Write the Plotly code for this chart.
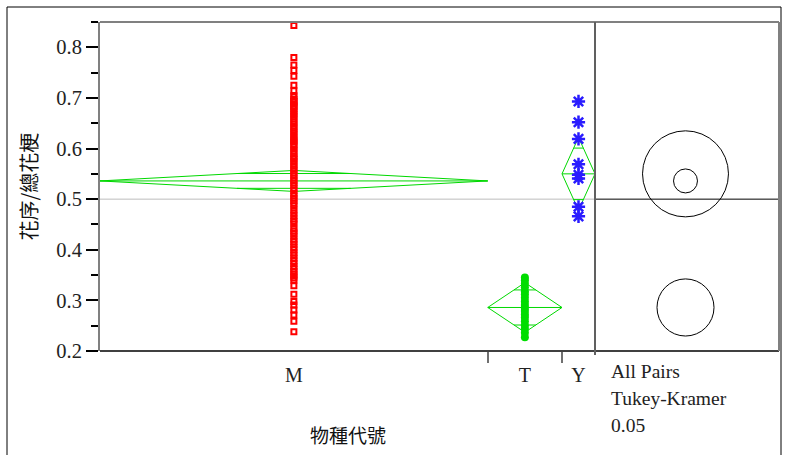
import math
import plotly.graph_objects as go

W, H = 791, 455

# ---- data -------------------------------------------------------------
groups = ["M", "T", "Y"]

m_values = [
    0.843, 0.780, 0.765, 0.754, 0.743, 0.725, 0.714, 0.702,
    0.705, 0.697, 0.693, 0.692, 0.688, 0.684, 0.683, 0.679, 0.674, 0.670,
    0.667, 0.663, 0.658, 0.653, 0.649, 0.644, 0.640, 0.635, 0.631, 0.627,
    0.622, 0.618, 0.615, 0.613, 0.608, 0.604, 0.599, 0.595, 0.590, 0.585,
    0.582, 0.579, 0.574, 0.569, 0.565, 0.560, 0.556, 0.551, 0.546, 0.542,
    0.537, 0.532, 0.528, 0.522, 0.517, 0.511, 0.506, 0.502, 0.497, 0.492,
    0.487, 0.479, 0.473, 0.467, 0.461, 0.456, 0.451, 0.442, 0.437, 0.433,
    0.427, 0.421, 0.416, 0.411, 0.405, 0.400, 0.394, 0.389, 0.383, 0.378,
    0.373, 0.367, 0.362, 0.357, 0.352, 0.348, 0.344, 0.340,
    0.329, 0.312, 0.298, 0.291, 0.281, 0.271, 0.259, 0.238,
]
t_values = [
    0.345, 0.340, 0.333, 0.326, 0.318, 0.312, 0.305, 0.298, 0.291,
    0.285, 0.279, 0.272, 0.266, 0.259, 0.251, 0.244, 0.236, 0.227,
]
y_values = [0.693, 0.652, 0.619, 0.569, 0.548, 0.541, 0.485, 0.466]

group_means = [0.536, 0.286, 0.550]
diamond_half = [0.0207, 0.049, 0.072]     # 95% CI half-widths
circle_radius = [0.0237, 0.0564, 0.085]   # Tukey-Kramer comparison circles
grand_mean = 0.5

y_ticks = [0.2, 0.3, 0.4, 0.5, 0.6, 0.7, 0.8]
y_range = [0.2, 0.85]
note_lines = ["All Pairs", "Tukey-Kramer", "0.05"]
y_title = "花序/總花梗"
x_title = "物種代號"

# ---- layout helpers ---------------------------------------------------
def px(x):
    return x / W


def py(y):
    return 1 - y / H


PLOT_L, PLOT_R, PANEL_R = 100, 595, 779
PLOT_T, PLOT_B = 22, 351
SERIF = "Liberation Serif, Times New Roman, serif"
CJK = "Noto Sans CJK TC, sans-serif"
GREEN = "#00d800"

# group widths proportional to group sizes
series = [m_values, t_values, y_values]
counts = [len(s) for s in series]
edges = [0]
for c in counts:
    edges.append(edges[-1] + c)
centers = [(edges[i] + edges[i + 1]) / 2 for i in range(len(groups))]

fig = go.Figure()

# means diamonds with overlap marks
k = 1 - 1 / math.sqrt(2)
for i in range(len(groups)):
    L, R, C = edges[i], edges[i + 1], centers[i]
    m, h = group_means[i], diamond_half[i]
    xs = [L, C, R, C, L, None, L, R]
    ys = [m, m + h, m, m - h, m, None, m, m]
    half_w = (R - L) / 2 * k
    for s in (1, -1):
        xs += [None, C - half_w, C + half_w]
        ys += [None, m + s * h / math.sqrt(2), m + s * h / math.sqrt(2)]
    fig.add_trace(go.Scatter(x=xs, y=ys, mode="lines",
                             line=dict(color=GREEN, width=1),
                             hoverinfo="skip", showlegend=False))

# observations
fig.add_trace(go.Scatter(
    x=[centers[0]] * counts[0], y=m_values, mode="markers",
    marker=dict(symbol="square-open", size=5, color="#ff0000",
                line=dict(color="#ff0000", width=2)),
    showlegend=False))
fig.add_trace(go.Scatter(
    x=[centers[1]] * counts[1], y=t_values, mode="markers",
    marker=dict(symbol="circle", size=8, color="#00dd00", line=dict(width=0)),
    showlegend=False))
fig.add_trace(go.Scatter(
    x=[centers[2]] * counts[2], y=y_values, mode="markers",
    marker=dict(symbol="asterisk-open", size=11, color="#2a1cff",
                line=dict(color="#2a1cff", width=2.5)),
    showlegend=False))

# anchor trace for the comparison-circle panel
fig.add_trace(go.Scatter(x=[0], y=[grand_mean], xaxis="x2", yaxis="y",
                         mode="markers", marker=dict(opacity=0),
                         hoverinfo="skip", showlegend=False))

shapes = []
# grand mean lines
shapes.append(dict(type="line", xref="x domain", yref="y", x0=0, x1=1,
                   y0=grand_mean, y1=grand_mean,
                   line=dict(color="#bdbdbd", width=1), layer="below"))
shapes.append(dict(type="line", xref="x2 domain", yref="y", x0=0, x1=1,
                   y0=grand_mean, y1=grand_mean,
                   line=dict(color="black", width=1)))
# comparison circles
for i in range(len(groups)):
    r = circle_radius[i]
    shapes.append(dict(type="circle", xref="x2", yref="y",
                       x0=-r, x1=r, y0=group_means[i] - r,
                       y1=group_means[i] + r,
                       line=dict(color="black", width=1)))
# frames
shapes += [
    dict(type="line", xref="paper", yref="paper", x0=px(7), x1=px(7),
         y0=py(7), y1=0, line=dict(color="black", width=1)),
    dict(type="line", xref="paper", yref="paper", x0=px(7), x1=px(781),
         y0=py(7), y1=py(7), line=dict(color="black", width=1)),
    dict(type="line", xref="paper", yref="paper", x0=px(781), x1=px(781),
         y0=py(7), y1=0, line=dict(color="black", width=1)),
    dict(type="line", xref="paper", yref="paper", x0=px(PLOT_L),
         x1=px(PANEL_R), y0=py(PLOT_T), y1=py(PLOT_T),
         line=dict(color="#808080", width=2)),
    dict(type="line", xref="paper", yref="paper", x0=px(PLOT_L),
         x1=px(PANEL_R), y0=py(PLOT_B), y1=py(PLOT_B),
         line=dict(color="black", width=1.5)),
    dict(type="line", xref="paper", yref="paper", x0=px(PLOT_R),
         x1=px(PLOT_R), y0=py(PLOT_T), y1=py(PLOT_B + 4),
         line=dict(color="#606060", width=2)),
    dict(type="line", xref="paper", yref="paper", x0=px(PANEL_R),
         x1=px(PANEL_R), y0=py(PLOT_T), y1=py(PLOT_B),
         line=dict(color="#808080", width=2)),
]

annotations = [
    dict(text=y_title, xref="paper", yref="paper", x=px(28),
         y=py((PLOT_T + PLOT_B) / 2), textangle=-90, showarrow=False,
         xanchor="center", yanchor="middle",
         font=dict(family=CJK, size=20, color="#111")),
    dict(text=x_title, xref="paper", yref="paper",
         x=px((PLOT_L + PLOT_R) / 2), y=py(434), showarrow=False,
         xanchor="center", yanchor="middle",
         font=dict(family=CJK, size=19, color="#111")),
]
for j, line in enumerate(note_lines):
    annotations.append(dict(text=line, xref="paper", yref="paper",
                            x=px(609), y=py(371 + 27 * j), showarrow=False,
                            xanchor="left", yanchor="middle",
                            font=dict(family=SERIF, size=19.5, color="#222")))

fig.update_layout(
    width=W, height=H, autosize=False,
    margin=dict(l=0, r=0, t=0, b=0, pad=0, autoexpand=False),
    paper_bgcolor="white", plot_bgcolor="white",
    showlegend=False,
    xaxis=dict(
        domain=[px(PLOT_L), px(PLOT_R)], range=[edges[0], edges[-1]],
        tickmode="array", tickvals=centers, ticktext=groups,
        ticks="outside", ticklen=6, tickcolor="rgba(0,0,0,0)",
        tickfont=dict(family=SERIF, size=20, color="#222"),
        showgrid=False, zeroline=False, showline=False, automargin=False,
        minor=dict(tickmode="array", tickvals=edges[1:-1], ticks="outside",
                   ticklen=11, tickwidth=1.5, tickcolor="#707070",
                   showgrid=False),
        fixedrange=True,
    ),
    xaxis2=dict(
        domain=[px(PLOT_R), px(PANEL_R)],
        range=[-(685.5 - PLOT_R) / 505.5, (PANEL_R - 685.5) / 505.5],
        anchor="y", showticklabels=False, ticks="", showgrid=False,
        zeroline=False, showline=False, automargin=False,
    ),
    yaxis=dict(
        domain=[py(PLOT_B), py(PLOT_T)], range=y_range,
        tickmode="array", tickvals=y_ticks,
        ticktext=[f"{v:.1f}" for v in y_ticks],
        ticks="outside", ticklen=12, tickwidth=1.5, tickcolor="black",
        tickfont=dict(family=SERIF, size=20.5, color="#222"),
        minor=dict(dtick=0.05, tick0=0.2, ticks="outside", ticklen=7,
                   tickwidth=1.5, tickcolor="black", showgrid=False),
        showgrid=False, zeroline=False, automargin=False,
        showline=True, linecolor="#808080", linewidth=2,
    ),
    shapes=shapes,
    annotations=annotations,
)

fig.write_html("out.html", config={"responsive": False},
               default_width=f"{W}px", default_height=f"{H}px")
